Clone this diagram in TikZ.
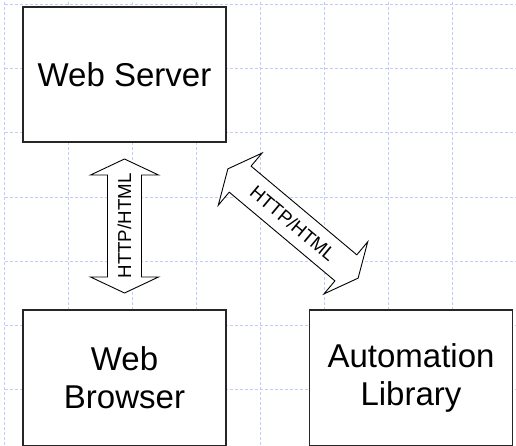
\documentclass[tikz,border=0pt]{standalone}
\usepackage{fontspec}
\setmainfont{Liberation Sans}
\definecolor{gridblue}{RGB}{190,206,246}
\tikzset{
  gridline/.style={draw=gridblue, line width=1pt, dash pattern=on 3pt off 2pt},
  block/.style={draw=black!85, line width=1.2pt, fill=white, minimum width=203pt,
    minimum height=135pt, align=center, inner sep=0pt,
    font=\fontsize{33}{38}\selectfont},
  arrowline/.style={draw=black, line width=0.9pt, fill=white, line join=miter},
  arrowtext/.style={inner sep=0pt, anchor=base, transform shape,
    font=\fontsize{18.7}{22}\selectfont}
}
\begin{document}
\begin{tikzpicture}[x=1pt,y=1pt]
	\useasboundingbox (0,0) rectangle (516,445);
	% background grid
	\foreach \i in {0,...,8}
		\draw[gridline] ({4.5+64*\i},0) -- ({4.5+64*\i},445);
	\foreach \j in {0,...,6}
		\draw[gridline] (4.5,{440-64*\j}) -- (516,{440-64*\j});
	% boxes
	\node[block] (server) at (124.5,370.5) {Web Server};
	\node[block, minimum height=136pt] (browser) at (124.5,67) {Web\\Browser};
	\node[block, minimum height=136pt] (library) at (411,67) {Automation\\Library};
	% block arrows: centre x / centre y / angle / half length / name
	\def\hw{17}  % half shaft width
	\def\hh{34}  % half head width
	\def\hd{16}  % head depth
	\foreach \cx/\cy/\ang/\hl/\nm in {124.5/219/90/67/httpA, 293/221.5/-40/85/httpB} {
		\begin{scope}[shift={(\cx,\cy)}, rotate=\ang]
			\draw[arrowline] (-\hl,0) -- ({-\hl+\hd},\hh) -- ({-\hl+\hd},\hw)
				-- ({\hl-\hd},\hw) -- ({\hl-\hd},\hh) -- (\hl,0)
				-- ({\hl-\hd},-\hh) -- ({\hl-\hd},-\hw) -- ({-\hl+\hd},-\hw)
				-- ({-\hl+\hd},-\hh) -- cycle;
			\node[arrowtext] (\nm) at (0,-6.7) {HTTP/HTML};
		\end{scope}
	}
\end{tikzpicture}
\end{document}
